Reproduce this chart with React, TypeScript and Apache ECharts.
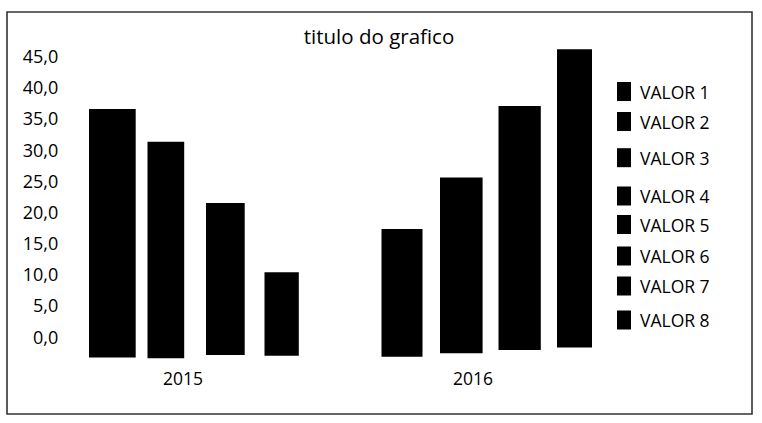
import { useEffect, useRef } from 'react';
import * as echarts from 'echarts';

// ---- data ----
const chartTitle = 'titulo do grafico';
const years = ['2015', '2016'];
const seriesNames = ['VALOR 1', 'VALOR 2', 'VALOR 3', 'VALOR 4', 'VALOR 5', 'VALOR 6', 'VALOR 7', 'VALOR 8'];
const seriesYear = [0, 0, 0, 0, 1, 1, 1, 1];
const values = [36.5, 31.25, 21.4, 10.3, 17.25, 25.5, 37.0, 46.1];
const barBottoms = [-3.35, -3.5, -2.95, -3.1, -3.25, -2.7, -2.15, -1.75];
const yTickLabels = [0, 5, 10, 15, 20, 25, 30, 35, 40, 45];

// ---- layout (not data) ----
const FONT = 'Open Sans';
const barWidths = [46.7, 36.7, 38.7, 34.3, 41, 42.6, 42.3, 35];
const legendCenters = [91.5, 121.5, 157.7, 196, 224.5, 256, 286, 320];

// slots on the category axis: 4 per year, plus an empty gap between years
const slots: string[] = [];
const slotOfSeries: number[] = [];
years.forEach((y, yi) => {
  if (yi > 0) slots.push('gap' + yi);
  seriesNames.forEach((_, si) => {
    if (seriesYear[si] === yi) {
      slotOfSeries[si] = slots.length;
      slots.push(y + '-' + si);
    }
  });
});

export default function App() {
  const ref = useRef<HTMLDivElement>(null);
  useEffect(() => {
    if (!ref.current) return;
    const chart = echarts.init(ref.current, null, { renderer: 'svg' });
    const series: any[] = [];
    seriesNames.forEach((name, i) => {
      const base = slots.map((_, k) => (k === slotOfSeries[i] ? barBottoms[i] : '-'));
      const vis = slots.map((_, k) => (k === slotOfSeries[i] ? +(values[i] - barBottoms[i]).toFixed(3) : '-'));
      series.push({
        type: 'bar',
        name: 'base ' + name,
        stack: 's' + i,
        stackStrategy: 'all',
        barWidth: barWidths[i],
        barGap: '-100%',
        silent: true,
        itemStyle: { color: 'rgba(0,0,0,0)' },
        data: base,
        xAxisIndex: 0,
        yAxisIndex: 0,
      });
      series.push({
        type: 'bar',
        name,
        stack: 's' + i,
        stackStrategy: 'all',
        barWidth: barWidths[i],
        barGap: '-100%',
        itemStyle: { color: '#000' },
        data: vis,
        xAxisIndex: 0,
        yAxisIndex: 0,
      });
    });

    const legends = seriesNames.map((n, i) => ({
      data: [n],
      orient: 'vertical',
      left: 617,
      top: legendCenters[i] - 9.5,
      padding: 0,
      itemWidth: 14,
      itemHeight: 19,
      itemGap: 0,
      icon: 'rect',
      selectedMode: false,
      itemStyle: { borderWidth: 0 },
      textStyle: { fontSize: 17.5, color: '#000', fontFamily: FONT, padding: [0, 0, 0, 4] },
    }));

    chart.setOption({
      animation: false,
      backgroundColor: '#fff',
      title: {
        text: chartTitle,
        left: 374,
        top: 20,
        textAlign: 'center',
        textStyle: { fontSize: 20.5, fontWeight: 'normal', color: '#000', fontFamily: FONT },
      },
      legend: legends,
      graphic: [
        {
          type: 'rect',
          shape: { x: 7, y: 12, width: 745, height: 402 },
          style: { fill: 'none', stroke: '#333', lineWidth: 1.6 },
          silent: true,
          z: 100,
        },
      ],
      grid: [
        { left: 77.25, right: 158.25, top: 24.85, bottom: 55.33, containLabel: false },
        { left: 38, right: 144, top: 360, height: 2, containLabel: false },
      ],
      xAxis: [
        {
          gridIndex: 0,
          type: 'category',
          data: slots,
          boundaryGap: true,
          axisLine: { show: false },
          axisTick: { show: false },
          axisLabel: { show: false },
          splitLine: { show: false },
        },
        {
          gridIndex: 1,
          type: 'category',
          data: years,
          axisLine: { show: false },
          axisTick: { show: false },
          axisLabel: { margin: 7, fontSize: 17.5, color: '#000', fontFamily: FONT },
          splitLine: { show: false },
        },
      ],
      yAxis: [
        {
          gridIndex: 0,
          type: 'value',
          min: -5,
          max: 50,
          interval: 5,
          axisLine: { show: false },
          axisTick: { show: false },
          splitLine: { show: false },
          axisLabel: {
            margin: 19,
            fontSize: 18,
            color: '#000',
            fontFamily: FONT,
            formatter: (v: number) =>
              yTickLabels.indexOf(v) >= 0 ? v.toFixed(1).replace('.', ',') : '',
          },
        },
        {
          gridIndex: 1,
          type: 'value',
          show: false,
        },
      ],
      series,
    });
    return () => chart.dispose();
  }, []);
  return (
    <div
      ref={ref}
      style={{ position: 'fixed', left: 0, top: 0, width: 762, height: 423, background: '#fff' }}
    />
  );
}
